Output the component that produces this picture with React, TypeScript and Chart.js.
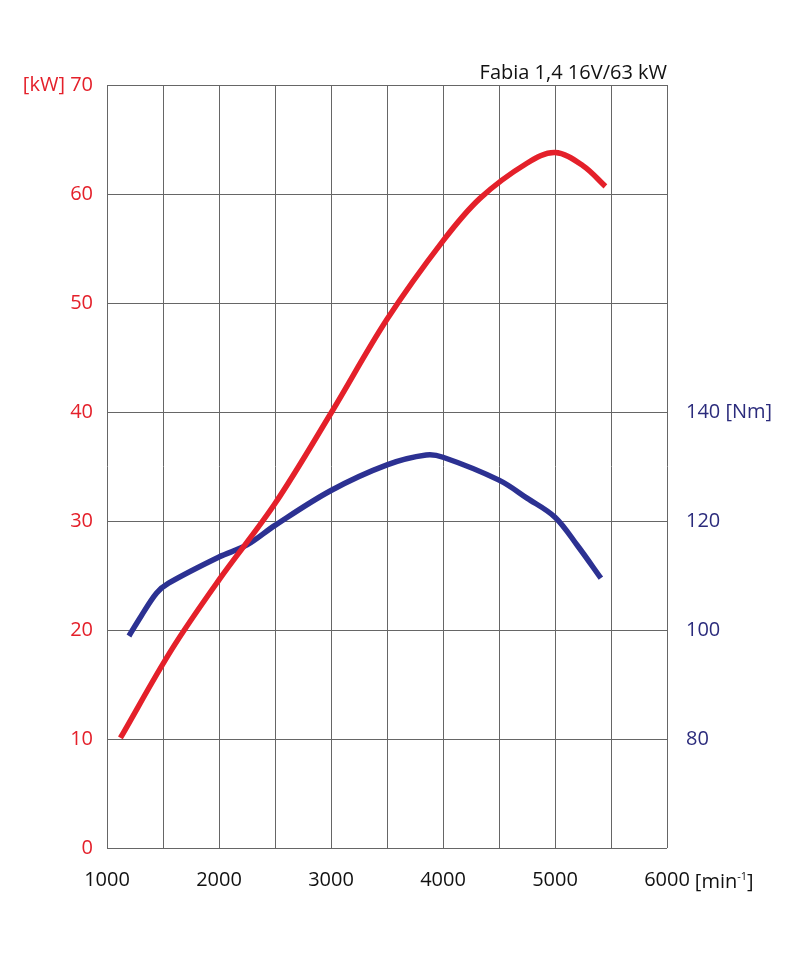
import React, { useEffect, useRef } from "react";
import { Chart, registerables } from "chart.js";

Chart.register(...registerables);

const powerRpm = [1120, 1577, 2000, 2500, 3006, 3500, 4000, 4330, 4746, 5000, 5250, 5450];
const powerKw = [10.1, 18.2, 24.6, 31.6, 40, 48.5, 55.7, 59.6, 62.8, 63.8, 62.6, 60.7];

const torqueRpm = [1196, 1300, 1443, 1550, 2000, 2250, 2500, 3000, 3500, 3850, 4000, 4500, 4750, 5000, 5200, 5410];
const torqueNm = [98.9, 102.4, 106.8, 108.6, 113.4, 115.6, 119.2, 125.6, 130.3, 132.1, 131.7, 127.5, 124.2, 120.7, 115.5, 109.5];

const xTickLabels = [1000, 2000, 3000, 4000, 5000, 6000];
const kwTickLabels = [0, 10, 20, 30, 40, 50, 60, 70];
const nmTickLabels = [80, 100, 120, 140];

const TITLE = "Fabia 1,4 16V/63 kW";
const FONT = "'Open Sans', 'Noto Sans', sans-serif";
const RED = "#e4202a";
const BLUE = "#2c3192";
const NAVY = "#2b2b7c";
const GRID = "#666666";

const extraText = {
  id: "extraText",
  afterDraw(chart: any) {
    const ctx = chart.ctx;
    const area = chart.chartArea;
    const xs = chart.scales.x;
    ctx.save();
    ctx.fillStyle = "#111";
    ctx.font = `20px ${FONT}`;
    ctx.textAlign = "right";
    ctx.textBaseline = "alphabetic";
    ctx.fillText(TITLE, area.right, 79);

    // unit after 6000
    const x6 = xs.getPixelForValue(6000);
    const w6 = ctx.measureText("6000").width;
    let x = x6 + w6 / 2 + 5;
    const y = area.bottom + 40;
    ctx.textAlign = "left";
    ctx.fillText("[min", x, y);
    x += ctx.measureText("[min").width;
    ctx.font = `11px ${FONT}`;
    ctx.fillText("-1", x, y - 8);
    x += ctx.measureText("-1").width;
    ctx.font = `20px ${FONT}`;
    ctx.fillText("]", x, y);
    ctx.restore();
  },
};

export default function App() {
  const ref = useRef<HTMLCanvasElement>(null);
  useEffect(() => {
    document.body.style.margin = "0";
    const chart = new Chart(ref.current!, {
      type: "line",
      data: {
        datasets: [
          {
            label: "kW",
            data: powerRpm.map((r, i) => ({ x: r, y: powerKw[i] })),
            borderColor: RED,
            borderWidth: 5.5,
            pointRadius: 0,
            tension: 0.35,
            yAxisID: "y",
            borderCapStyle: "butt",
          },
          {
            label: "Nm",
            data: torqueRpm.map((r, i) => ({ x: r, y: torqueNm[i] })),
            borderColor: BLUE,
            borderWidth: 5.5,
            pointRadius: 0,
            tension: 0.35,
            yAxisID: "y1",
            borderCapStyle: "butt",
          },
        ],
      },
      options: {
        responsive: false,
        animation: false,
        layout: { padding: { top: 85, left: 0, right: 0, bottom: 0 } },
        plugins: { legend: { display: false }, tooltip: { enabled: false }, title: { display: false } },
        scales: {
          x: {
            type: "linear",
            min: 1000,
            max: 6000,
            ticks: {
              stepSize: 500,
              autoSkip: false,
              maxRotation: 0,
              padding: 20,
              color: "#111",
              font: { family: FONT, size: 20 },
              callback: (v: any) => (xTickLabels.includes(Number(v)) ? String(v) : ""),
            },
            grid: { color: GRID, lineWidth: 1, drawTicks: false, tickLength: 0 },
            border: { display: false },
            afterFit: (s: any) => { s.height = 105; },
          },
          y: {
            type: "linear",
            position: "left",
            min: 0,
            max: 70,
            ticks: {
              stepSize: 10,
              padding: 14,
              color: RED,
              font: { family: FONT, size: 20 },
              callback: (v: any) => {
                const n = Number(v);
                if (!kwTickLabels.includes(n)) return "";
                return n === 70 ? "[kW] 70" : String(n);
              },
            },
            grid: { color: GRID, lineWidth: 1, drawTicks: false, tickLength: 0 },
            border: { display: false },
            afterFit: (s: any) => { s.width = 107; },
          },
          y1: {
            type: "linear",
            position: "right",
            min: 60,
            max: 200,
            ticks: {
              stepSize: 20,
              padding: 19,
              color: NAVY,
              font: { family: FONT, size: 20 },
              callback: (v: any) => {
                const n = Number(v);
                if (!nmTickLabels.includes(n)) return "";
                return n === 140 ? "140 [Nm]" : String(n);
              },
            },
            grid: { display: false, drawTicks: false, tickLength: 0 },
            border: { display: false },
            afterFit: (s: any) => { s.width = 133; },
          },
        },
      },
      plugins: [extraText],
    } as any);
    return () => chart.destroy();
  }, []);
  return (
    <div style={{ position: "absolute", left: 0, top: 0, width: 800, height: 953 }}>
      <canvas ref={ref} width={800} height={953} style={{ width: 800, height: 953, display: "block" }} />
    </div>
  );
}
